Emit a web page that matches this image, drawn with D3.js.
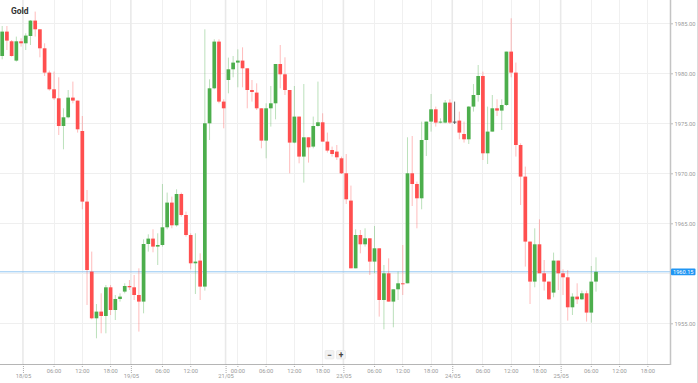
<!DOCTYPE html>
<html>
<head>
<meta charset="utf-8">
<script src="https://cdn.jsdelivr.net/npm/d3@7"></script>
<style>
  html, body { margin: 0; padding: 0; background: #fff; }
  svg { display: block; }
</style>
</head>
<body>
<svg id="chart" width="698" height="383"></svg>
<script>
const title = "Gold";
const open = [1981.73,1984.17,1983.20,1981.27,1983.20,1983.00,1983.73,1985.27,1984.40,1982.50,
1980.07,1978.40,1977.50,1974.73,1975.60,1977.57,1977.27,1974.23,1967.17,1960.17,
1955.50,1956.17,1955.73,1958.60,1956.33,1957.43,1958.17,1958.73,1958.60,1957.83,
1957.17,1962.93,1963.47,1962.67,1962.83,1964.60,1967.07,1964.80,1967.93,1965.83,
1963.83,1961.00,1961.27,1958.67,1975.00,1978.50,1983.17,1977.17,1979.33,1980.40,
1981.07,1981.27,1980.50,1978.33,1978.07,1976.50,1973.27,1976.50,1977.00,1980.93,
1979.90,1978.33,1973.07,1975.67,1971.67,1973.60,1972.67,1974.73,1975.10,1973.17,
1972.33,1972.17,1971.50,1970.00,1967.27,1960.50,1963.83,1962.90,1963.50,1961.17,
1962.50,1957.33,1960.00,1957.17,1958.40,1959.00,1959.00,1970.00,1968.93,1967.50,
1973.33,1975.17,1976.40,1975.07,1975.07,1977.07,1975.17,1975.27,1973.93,1973.40,
1976.67,1977.83,1979.73,1972.00,1974.17,1976.50,1976.27,1976.83,1982.17,1980.07,
1972.83,1969.67,1963.17,1959.17,1962.90,1960.00,1959.17,1958.07,1961.27,1960.00,
1959.60,1956.60,1957.67,1957.40,1958.00,1956.07,1959.17];
const high = [1984.73,1984.73,1983.33,1983.67,1983.50,1984.00,1985.33,1986.17,1984.40,1983.00,
1980.27,1980.17,1979.60,1976.50,1978.33,1979.17,1977.27,1975.73,1968.33,1962.17,
1956.93,1958.00,1958.83,1958.83,1957.83,1958.00,1959.00,1959.33,1959.83,1960.50,
1963.40,1963.90,1964.40,1964.00,1968.93,1968.07,1967.67,1968.40,1968.07,1966.17,
1964.00,1964.00,1962.00,1984.40,1979.40,1983.40,1983.40,1977.40,1981.57,1981.73,
1982.40,1982.60,1980.50,1979.33,1979.00,1976.50,1977.00,1978.73,1980.93,1982.83,
1981.60,1978.33,1978.73,1975.67,1978.93,1973.60,1975.67,1979.17,1976.00,1974.07,
1972.67,1972.83,1971.67,1971.93,1968.77,1964.40,1964.33,1964.50,1963.50,1964.73,
1962.50,1960.83,1961.50,1958.40,1960.17,1962.83,1973.60,1973.73,1969.17,1975.17,
1975.17,1977.93,1976.67,1975.50,1977.33,1977.40,1977.17,1976.17,1975.17,1976.73,
1978.93,1980.83,1980.17,1976.67,1977.83,1977.40,1977.40,1982.17,1985.50,1981.07,
1973.00,1970.67,1963.17,1964.50,1965.40,1961.33,1959.17,1962.07,1961.27,1960.40,
1960.33,1958.00,1959.00,1958.27,1958.27,1960.73,1961.60];
const low = [1981.40,1982.33,1981.67,1981.17,1982.67,1982.33,1982.83,1983.67,1981.60,1979.73,
1978.27,1977.33,1973.83,1972.40,1975.50,1977.00,1974.07,1966.40,1956.83,1955.40,
1953.50,1954.00,1954.00,1955.83,1955.33,1957.17,1958.00,1958.33,1957.33,1954.17,
1956.00,1962.17,1962.10,1960.83,1962.67,1964.40,1964.50,1964.67,1965.67,1963.67,
1960.40,1957.93,1957.33,1958.27,1973.33,1978.40,1977.00,1974.50,1978.00,1979.60,
1978.60,1978.60,1976.50,1977.17,1976.33,1972.50,1971.50,1974.67,1975.40,1978.50,
1977.83,1970.00,1973.00,1971.00,1969.07,1971.07,1972.50,1974.67,1973.17,1972.07,
1971.67,1971.33,1969.93,1966.93,1960.50,1960.50,1962.00,1962.67,1959.83,1960.00,
1955.67,1954.40,1957.17,1954.60,1957.33,1957.83,1959.00,1966.73,1964.50,1966.40,
1971.73,1974.17,1974.67,1975.00,1975.00,1974.93,1974.93,1973.40,1973.07,1972.93,
1976.17,1977.17,1971.33,1970.93,1974.17,1975.73,1974.33,1976.73,1979.60,1971.67,
1966.83,1960.67,1956.93,1958.60,1960.00,1958.27,1957.33,1957.60,1958.33,1957.83,
1955.27,1955.83,1956.93,1957.33,1955.17,1955.07,1958.17];
const close = [1984.17,1983.27,1981.73,1983.20,1983.00,1983.77,1985.27,1984.40,1982.50,1980.07,
1978.40,1977.50,1974.73,1975.60,1977.57,1977.27,1974.40,1967.17,1960.33,1955.50,
1956.17,1955.73,1958.60,1956.33,1957.43,1957.67,1958.73,1958.60,1957.83,1957.17,
1962.93,1963.47,1962.67,1962.83,1964.60,1967.07,1964.80,1967.93,1965.83,1963.83,
1961.00,1961.17,1958.67,1975.00,1978.50,1983.17,1977.17,1976.50,1980.40,1981.07,
1981.27,1980.50,1978.33,1978.13,1976.50,1973.27,1976.50,1977.00,1980.93,1979.90,
1978.33,1973.07,1975.67,1971.67,1973.60,1972.60,1974.73,1975.10,1973.17,1972.27,
1971.93,1971.60,1970.00,1967.40,1960.50,1963.83,1962.90,1963.50,1961.17,1962.50,
1957.33,1960.00,1957.17,1958.40,1959.00,1958.90,1970.00,1968.93,1967.50,1973.33,
1975.17,1976.40,1975.07,1975.17,1977.07,1975.07,1975.17,1974.07,1973.40,1976.67,
1977.83,1979.73,1972.00,1974.17,1976.50,1976.27,1976.83,1982.17,1980.07,1972.83,
1969.67,1963.17,1959.17,1962.90,1960.00,1959.17,1957.40,1961.27,1960.00,1959.60,
1956.60,1957.67,1957.40,1958.00,1956.07,1959.17,1960.15];
const currentPrice = 1960.15;
const priceTicks = [1955, 1960, 1965, 1970, 1975, 1980, 1985];
const shownPriceTicks = [1955, 1965, 1970, 1975, 1980, 1985];
const hourTickIdx = [10.9,16.9,22.9,33.9,39.9,49.9,55.9,61.9,67.9,78.9,84.9,90.9,101.9,107.9,113.9,124.9,130.9,136.9];
const hourTickLabels = ["06:00","12:00","18:00","06:00","12:00","00:00","06:00","12:00","18:00","06:00","12:00","18:00","06:00","12:00","18:00","06:00","12:00","18:00"];
const dayTickIdx = [4.4, 27.3, 47.4, 72.4, 95.5, 118.5];
const dayTickLabels = ["18/05","19/05","21/05","23/05","24/05","25/05"];

const W = 698, H = 383;
const plotRight = 670, plotBottom = 364;
const svg = d3.select("#chart");

const x = d3.scaleLinear().domain([0, 126]).range([2.2, 596]);
const y = d3.scaleLinear().domain([1955, 1985]).range([323.3, 23.3]);

const font = "Roboto, 'Liberation Sans', Arial, sans-serif";

// grid
const g = svg.append("g");
g.selectAll("line.hg").data(priceTicks).join("line")
  .attr("x1", 0).attr("x2", plotRight)
  .attr("y1", d => Math.round(y(d)) + 0.5).attr("y2", d => Math.round(y(d)) + 0.5)
  .attr("stroke", "#efefef").attr("stroke-width", 1);
g.selectAll("line.vg").data(hourTickIdx).join("line")
  .attr("x1", d => Math.round(x(d)) + 0.5).attr("x2", d => Math.round(x(d)) + 0.5)
  .attr("y1", 0).attr("y2", plotBottom)
  .attr("stroke", "#f0f0f0").attr("stroke-width", 1);
g.selectAll("line.dg").data(dayTickIdx).join("line")
  .attr("x1", d => x(d)).attr("x2", d => x(d))
  .attr("y1", 0).attr("y2", plotBottom)
  .attr("stroke", "#e9e9e9").attr("stroke-width", 1.6);

// current price line
svg.append("line")
  .attr("x1", 0).attr("x2", plotRight)
  .attr("y1", y(currentPrice)).attr("y2", y(currentPrice))
  .attr("stroke", "#92c7f2").attr("stroke-width", 1);

// candles
const idx = d3.range(open.length);
const upCol = "#4cae4c", downCol = "#ff4f4f", dojiCol = "#555";
const colorOf = i => close[i] > open[i] ? upCol : (close[i] < open[i] ? downCol : dojiCol);
const cg = svg.append("g");
cg.selectAll("line.wick").data(idx).join("line")
  .attr("x1", i => x(i)).attr("x2", i => x(i))
  .attr("y1", i => y(high[i])).attr("y2", i => y(low[i]))
  .attr("stroke", colorOf)
  .attr("stroke-opacity", i => close[i] === open[i] ? 0.9 : 0.38)
  .attr("stroke-width", 1);
const bw = 3.7;
cg.selectAll("rect.body").data(idx).join("rect")
  .attr("x", i => x(i) - bw / 2)
  .attr("width", bw)
  .attr("y", i => y(Math.max(open[i], close[i])))
  .attr("height", i => Math.max(1, Math.abs(y(open[i]) - y(close[i]))))
  .attr("fill", colorOf);

// axes lines
svg.append("line").attr("x1", 0).attr("x2", plotRight)
  .attr("y1", plotBottom + 0.5).attr("y2", plotBottom + 0.5)
  .attr("stroke", "#b5b5b5").attr("stroke-width", 1);
svg.append("line").attr("x1", plotRight + 0.5).attr("x2", plotRight + 0.5)
  .attr("y1", 0).attr("y2", plotBottom + 1)
  .attr("stroke", "#c4c4c4").attr("stroke-width", 1.5);
svg.append("line").attr("x1", 697.5).attr("x2", 697.5)
  .attr("y1", 0).attr("y2", H)
  .attr("stroke", "#dcdcdc").attr("stroke-width", 1);

// right axis
const yAxis = d3.axisRight(y).tickValues(shownPriceTicks).tickSize(2).tickPadding(1.5)
  .tickFormat(d3.format(".2f"));
const ya = svg.append("g").attr("transform", `translate(${plotRight + 1},0)`).call(yAxis);
ya.select(".domain").remove();
ya.selectAll("line").attr("stroke", "#bbb");
ya.selectAll("text").attr("font-family", font).attr("font-size", 5.8).attr("fill", "#9a9a9a");

// current price tag
const tagY = y(currentPrice);
svg.append("rect").attr("x", plotRight + 1).attr("y", tagY - 3.4)
  .attr("width", 24.5).attr("height", 6.8).attr("rx", 1)
  .attr("fill", "#2196f3");
svg.append("text").attr("x", plotRight + 1 + 12.25).attr("y", tagY + 2)
  .attr("text-anchor", "middle").attr("font-family", font)
  .attr("font-size", 5.6).attr("fill", "#fff")
  .text(d3.format(".2f")(currentPrice));

// bottom axis: hour ticks
const xh = d3.axisBottom(x).tickValues(hourTickIdx).tickSize(3).tickPadding(2)
  .tickFormat((d, i) => hourTickLabels[i]);
const xa = svg.append("g").attr("transform", `translate(0,${plotBottom})`).call(xh);
xa.select(".domain").remove();
xa.selectAll("line").attr("stroke", "#aaa").attr("stroke-dasharray", "1,1");
xa.selectAll("text").attr("font-family", font).attr("font-size", 5.8).attr("fill", "#9a9a9a");

// bottom axis: day ticks
const xd = d3.axisBottom(x).tickValues(dayTickIdx).tickSize(9).tickPadding(1)
  .tickFormat((d, i) => dayTickLabels[i]);
const xb = svg.append("g").attr("transform", `translate(0,${plotBottom})`).call(xd);
xb.select(".domain").remove();
xb.selectAll("line").attr("stroke", "#aaa").attr("stroke-dasharray", "1,1");
xb.selectAll("text").attr("font-family", font).attr("font-size", 5.8).attr("fill", "#9a9a9a");

// title
svg.append("text").attr("x", 11).attr("y", 13.8)
  .attr("font-family", font).attr("font-weight", "bold")
  .attr("font-size", 8.5).attr("fill", "#333").text(title);

// zoom buttons
const btns = [{t: "−", x0: 325}, {t: "+", x0: 336.5}];
const bg = svg.append("g");
bg.selectAll("rect").data(btns).join("rect")
  .attr("x", d => d.x0).attr("y", 350.5).attr("width", 9).attr("height", 8.5)
  .attr("rx", 1).attr("fill", "#f2f2f2").attr("stroke", "#e2e2e2").attr("stroke-width", 0.5);
bg.selectAll("text").data(btns).join("text")
  .attr("x", d => d.x0 + 4.5).attr("y", 357.6).attr("text-anchor", "middle")
  .attr("font-family", font).attr("font-weight", "bold").attr("font-size", 8.5)
  .attr("fill", "#444").text(d => d.t);
</script>
</body>
</html>
